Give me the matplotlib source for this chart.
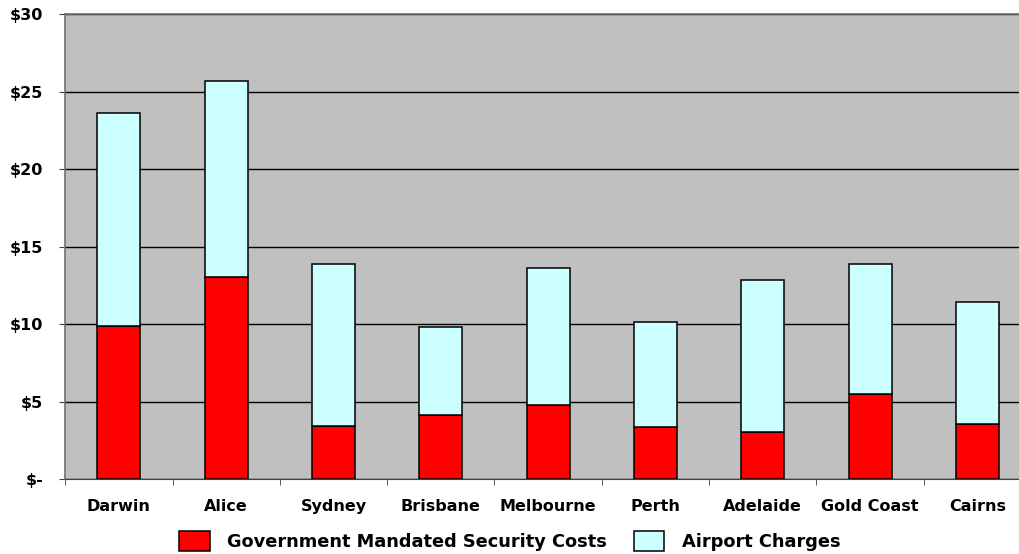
import numpy as np
import matplotlib.pyplot as plt
from matplotlib.ticker import FuncFormatter, FixedLocator

cities = ['Darwin', 'Alice', 'Sydney', 'Brisbane', 'Melbourne', 'Perth',
          'Adelaide', 'Gold Coast', 'Cairns']
security_costs = [9.88, 13.02, 3.41, 4.15, 4.77, 3.39, 3.05, 5.50, 3.59]
airport_charges = [13.76, 12.64, 10.49, 5.65, 8.83, 6.75, 9.80, 8.36, 7.82]
y_ticks = [0, 5, 10, 15, 20, 25, 30]

plt.rcParams['font.family'] = ['DejaVu Sans']
plt.rcParams['font.weight'] = 'bold'

fig = plt.figure(figsize=(10.2, 5.54), dpi=100)
# the plot area runs a little past the right edge of the picture
ax = fig.add_axes([0.064, 0.1348, 0.9468, 0.8399])
ax.set_facecolor('#C0C0C0')

x = np.arange(len(cities))
w = 0.40
b1 = ax.bar(x, security_costs, w, color='#FF0000', edgecolor='black',
            linewidth=1.1, label='Government Mandated Security Costs', zorder=3)
b2 = ax.bar(x, airport_charges, w, bottom=security_costs, color='#CCFFFF',
            edgecolor='black', linewidth=1.1, label='Airport Charges', zorder=3)

ax.set_xlim(-0.5, len(cities) - 0.5)
ax.set_ylim(0, 30)
ax.set_yticks(y_ticks)
ax.yaxis.set_major_formatter(FuncFormatter(lambda v, p: '$-' if v == 0 else '$%d' % v))
ax.grid(axis='y', color='black', linewidth=1, zorder=1)

# category labels centred, tick marks on the boundaries
ax.set_xticks(x)
ax.set_xticklabels(cities, fontsize=11.5, fontweight='bold')
ax.tick_params(axis='x', length=0, pad=14)
ax.xaxis.set_minor_locator(FixedLocator(np.arange(-0.5, len(cities), 1)))
ax.tick_params(axis='x', which='minor', length=4, direction='out', color='#404040')
ax.tick_params(axis='y', length=4, direction='out', labelsize=11.5, pad=12, color='#404040')

ax.spines['right'].set_visible(False)
for side in ['top', 'left']:
    ax.spines[side].set_color('#707070')
    ax.spines[side].set_linewidth(1.2)
ax.spines['bottom'].set_color('#404040')

fig.legend(handles=[b1, b2], loc='center', bbox_to_anchor=(0.5, 0.0235),
           ncol=2, frameon=False, fontsize=12.8, handlelength=1.7, handleheight=1.35,
           columnspacing=1.5, handletextpad=1.0, borderpad=0, borderaxespad=0)

fig.savefig('out.png', dpi=100)
